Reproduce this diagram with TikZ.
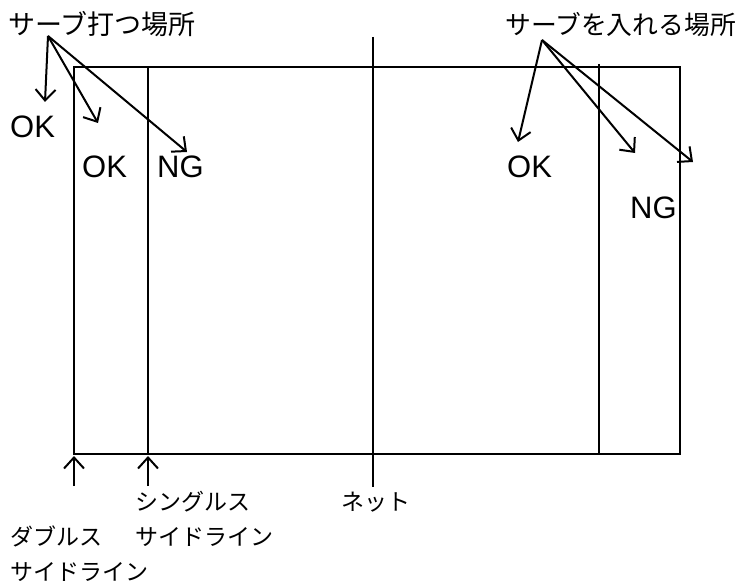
\documentclass[tikz,border=0pt]{standalone}
\usepackage{fontspec}
\setmainfont{Liberation Sans}
\newfontfamily\jp{Noto Sans CJK JP}
\usetikzlibrary{arrows.meta}
\tikzstyle{biglabel} = [inner sep=0pt, font=\jp\fontsize{25.8}{30}\selectfont]
\tikzstyle{smalllabel} = [inner sep=0pt, align=left, font=\jp\fontsize{23}{35}\selectfont]
\tikzstyle{judge} = [inner sep=0pt, font=\fontsize{31}{36}\selectfont]
\tikzstyle{courtline} = [line width=1.6pt]
\tikzstyle{arrow} = [line width=2pt,-{Straight Barb[length=11pt,width=20pt]}]

\begin{document}
\begin{tikzpicture}[x=1pt,y=-1pt]
	\useasboundingbox (0,0) rectangle (746,583);

	% court
	\draw [courtline] (74,67) rectangle (680,454);
	\draw [courtline] (148,67) -- (148,454);
	\draw [courtline] (599,64) -- (599,454);
	\draw [courtline] (373,37) -- (373,487);

	\node (serve) [biglabel,anchor=base west,font=\jp\fontsize{27}{30}\selectfont] at (8,35) {サーブ打つ場所};
	\node (target) [biglabel,anchor=base west] at (505,35) {サーブを入れる場所};

	\node (okout) [judge,anchor=base west] at (10,137) {OK};
	\node (okdbl) [judge,anchor=base west] at (82,177) {OK};
	\node (ngsgl) [judge,anchor=base west] at (157,177) {NG};
	\node (okin) [judge,anchor=base west] at (507,177) {OK};
	\node (ngout) [judge,anchor=base west] at (630,218) {NG};

	\coordinate (servefrom) at (48,36);
	\coordinate (serveA) at (45,102);
	\coordinate (serveB) at (98,123);
	\coordinate (serveC) at (187,152);
	\coordinate (targetfrom) at (542,40);
	\coordinate (targetA) at (518,142);
	\coordinate (targetB) at (635,153);
	\coordinate (targetC) at (693,162);

	\draw [arrow] (servefrom) -- (serveA);
	\draw [arrow] (servefrom) -- (serveB);
	\draw [arrow] (servefrom) -- (serveC);
	\draw [arrow] (targetfrom) -- (targetA);
	\draw [arrow] (targetfrom) -- (targetB);
	\draw [arrow] (targetfrom) -- (targetC);

	% bottom labels
	\coordinate (dblfoot) at (74,486);
	\coordinate (dbltip) at (74,456);
	\coordinate (sglfoot) at (148,486);
	\coordinate (sgltip) at (148,456);
	\draw [arrow] (dblfoot) -- (dbltip);
	\draw [arrow] (sglfoot) -- (sgltip);

	\node (single) [smalllabel,anchor=base west] at (135,545) {シングルス\\サイドライン};
	\node (double) [smalllabel,anchor=base west] at (10,580) {ダブルス\\サイドライン};
	\node (net) [smalllabel,anchor=base] at (376,510) {ネット};

\end{tikzpicture}
\end{document}
